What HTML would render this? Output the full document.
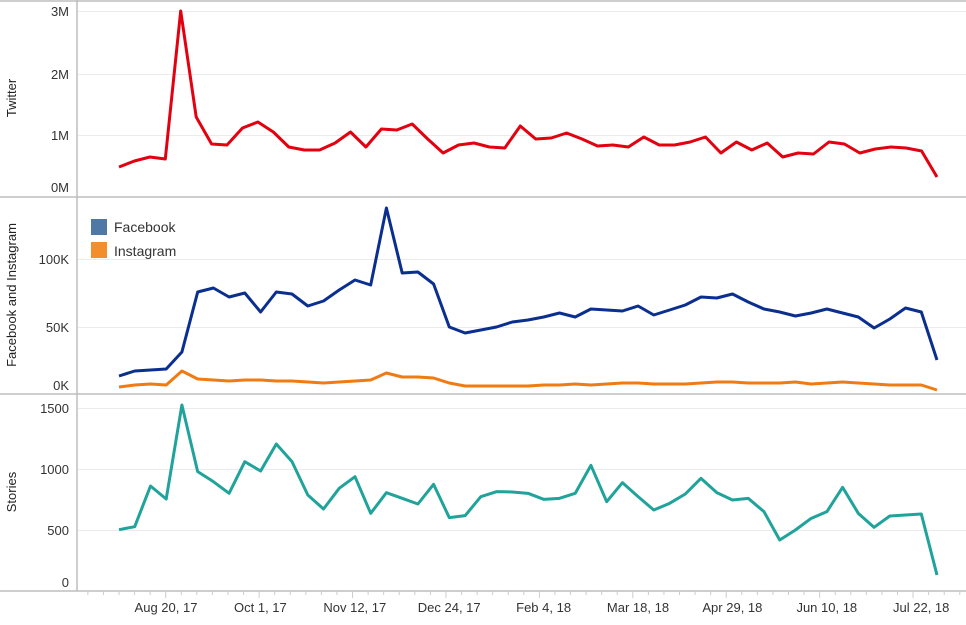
<!DOCTYPE html>
<html><head><meta charset="utf-8"><style>
html,body{margin:0;padding:0;background:#fff;}
svg{display:block;font-family:"Liberation Sans",sans-serif;}
</style></head><body>
<svg id="c" width="966" height="625" xmlns="http://www.w3.org/2000/svg">
<rect width="966" height="625" fill="#fff"/>
<g stroke="#ebebeb" stroke-width="1">
<line x1="78" y1="11.5" x2="966" y2="11.5"/><line x1="78" y1="74.5" x2="966" y2="74.5"/><line x1="78" y1="135.5" x2="966" y2="135.5"/>
<line x1="78" y1="259.5" x2="966" y2="259.5"/><line x1="78" y1="327.5" x2="966" y2="327.5"/>
<line x1="78" y1="408.5" x2="966" y2="408.5"/><line x1="78" y1="469.5" x2="966" y2="469.5"/><line x1="78" y1="530.5" x2="966" y2="530.5"/>
</g>
<g stroke="#bdbdbd" stroke-width="1.5">
<line x1="0" y1="1" x2="966" y2="1"/><line x1="0" y1="197" x2="966" y2="197"/><line x1="0" y1="394" x2="966" y2="394"/><line x1="0" y1="591" x2="966" y2="591"/>
<line x1="77" y1="0" x2="77" y2="591"/>
</g>
<g id="ticks" stroke="#ccc" stroke-width="1"></g>
<g font-size="13" fill="#333" text-anchor="end">
<text x="69" y="16">3M</text><text x="69" y="79">2M</text><text x="69" y="140">1M</text><text x="69" y="192">0M</text>
<text x="69" y="264">100K</text><text x="69" y="332">50K</text><text x="69" y="390">0K</text>
<text x="69" y="413">1500</text><text x="69" y="474">1000</text><text x="69" y="535">500</text><text x="69" y="587">0</text>
</g>
<g font-size="13" fill="#222" text-anchor="middle">
<text transform="translate(16,98) rotate(-90)">Twitter</text>
<text transform="translate(16,295) rotate(-90)">Facebook and Instagram</text>
<text transform="translate(16,492) rotate(-90)">Stories</text>
</g>
<g font-size="13" fill="#333" text-anchor="middle" id="xl"></g>
<rect x="91" y="219" width="16" height="16" fill="#4e79a7"/>
<rect x="91" y="242" width="16" height="16" fill="#f28e2b"/>
<text x="114" y="232" font-size="14" fill="#333">Facebook</text>
<text x="114" y="256" font-size="14" fill="#333">Instagram</text>
<g id="lines" fill="none" stroke-width="3" stroke-linejoin="round"></g>
</svg>
<script>
var tw=[167,161,157,159,11,117,144,145,128,122,132,147,150,150,143,132,147,129,130,124,139,153,145,143,147,148,126,139,138,133,139,146,145,147,137,145,145,142,137,153,142,150,143,157,153,154,142,144,153,149,147,148,151,177];
var fb=[376,371,370,369,352,292,288,297,293,312,292,294,306,301,290,280,285,208,273,272,284,327,333,330,327,322,320,317,313,317,309,310,311,306,315,310,305,297,298,294,302,309,312,316,313,309,313,317,328,319,308,312,360];
var ig=[387,385,384,385,371,379,380,381,380,380,381,381,382,383,382,381,380,373,377,377,378,383,386,386,386,386,386,385,385,384,385,384,383,383,384,384,384,383,382,382,383,383,383,382,384,383,382,383,384,385,385,385,390];
var stz=[629,620,498,537,255,455,485,520,425,453,372,425,525,567,505,470,580,518,535,552,493,593,587,530,515,516,520,538,535,520,436,545,488,530,570,550,522,475,518,540,535,575,660,630,595,575,502,580,622,588,585,582,765];
var st=stz.map(function(v){return 320+v/3;});
function pl(a,c){var n=a.length,p=[];for(var i=0;i<n;i++){p.push((119+818*i/(n-1)).toFixed(1)+","+a[i]);}
var e=document.createElementNS("http://www.w3.org/2000/svg","polyline");e.setAttribute("points",p.join(" "));e.setAttribute("stroke",c);document.getElementById("lines").appendChild(e);}
pl(tw,"#e3000f");pl(ig,"#f07b12");pl(fb,"#0a2f8f");pl(st,"#20a39b");
var tk=document.getElementById("ticks");
for(var i=0;i<58;i++){var x=119+15.57*i-15.57*3;if(x<80||x>966)continue;var l=document.createElementNS("http://www.w3.org/2000/svg","line");
var major=((i-3+3)%6==0);l.setAttribute("x1",x);l.setAttribute("x2",x);l.setAttribute("y1",591);l.setAttribute("y2",major?598:595);tk.appendChild(l);}
var labs=["Aug 20, 17","Oct 1, 17","Nov 12, 17","Dec 24, 17","Feb 4, 18","Mar 18, 18","Apr 29, 18","Jun 10, 18","Jul 22, 18"];
var xl=document.getElementById("xl");
for(var j=0;j<labs.length;j++){var t=document.createElementNS("http://www.w3.org/2000/svg","text");t.setAttribute("x",166+94.4*j);t.setAttribute("y",612);t.textContent=labs[j];xl.appendChild(t);}
</script>
</body></html>
